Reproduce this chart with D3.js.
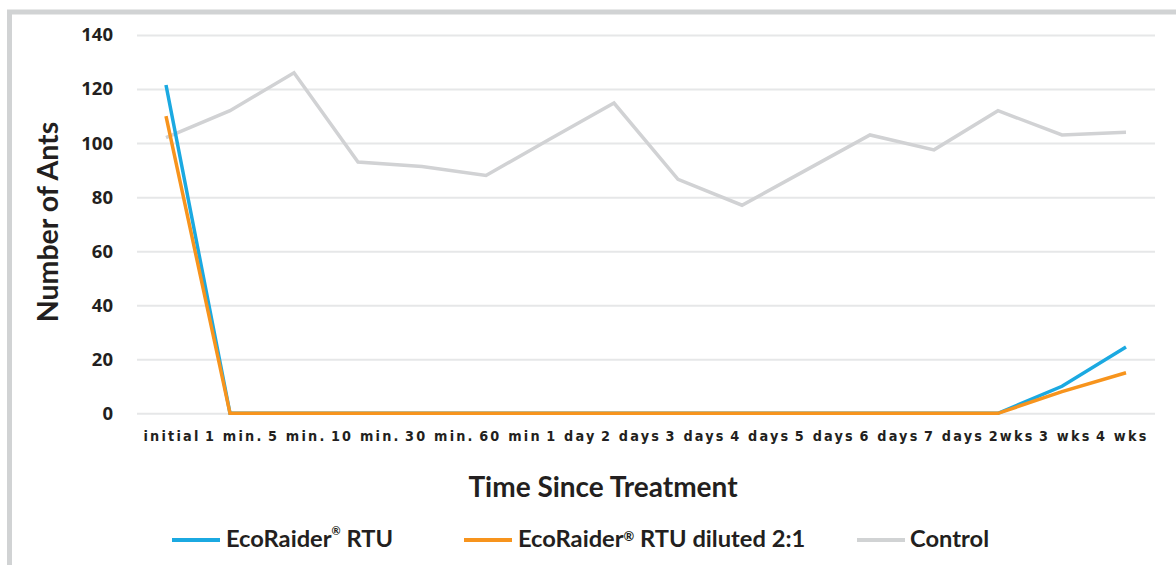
<!DOCTYPE html>
<html>
<head>
<meta charset="utf-8">
<script src="https://cdn.jsdelivr.net/npm/d3@7"></script>
<style>
  html, body { margin: 0; padding: 0; background: #fff; }
  svg { display: block; }
</style>
</head>
<body>
<svg id="chart" width="1176" height="565"></svg>
<script>
const categories = ["initial", "1 min.", "5 min.", "10 min.", "30 min.", "60 min", "1 day", "2 days",
  "3 days", "4 days", "5 days", "6 days", "7 days", "2wks", "3 wks", "4 wks"];
const rtu     = [121.5, 0, 0, 0, 0, 0, 0, 0, 0, 0, 0, 0, 0, 0, 10, 24.5];
const diluted = [110, 0, 0, 0, 0, 0, 0, 0, 0, 0, 0, 0, 0, 0, 8, 15];
const control = [102, 112, 126, 93, 91.3, 88, 101.5, 114.8, 86.6, 77, 90, 103, 97.5, 112, 103, 104];
const yTicks  = [0, 20, 40, 60, 80, 100, 120, 140];
const seriesNames = ["EcoRaider", "EcoRaider", "Control"];

const svg = d3.select("#chart");
const textColor = "#231f20";
const titleFont = "Lato, 'Open Sans', sans-serif";

// frame
svg.append("path")
  .attr("d", "M9.5,565 L9.5,12 L1176,12")
  .attr("fill", "none").attr("stroke", "#d1d3d4").attr("stroke-width", 5);

const plotLeft = 137, plotRight = 1155;
const x = d3.scalePoint().domain(categories).range([166, 1126]);
const y = d3.scaleLinear().domain([0, 140]).range([413.3, 35]);

// y axis with gridlines
const yAxis = d3.axisLeft(y).tickValues(yTicks).tickSize(plotRight - plotLeft).tickPadding(24);
const gy = svg.append("g").attr("transform", `translate(${plotRight},0)`).call(yAxis);
gy.select(".domain").remove();
gy.selectAll(".tick line").attr("stroke", "#e6e7e8").attr("stroke-width", 2);
gy.selectAll(".tick text")
  .attr("fill", textColor)
  .style("font-family", "'Open Sans', sans-serif")
  .style("font-weight", "700")
  .style("font-size", "18.5px");

// x axis: labels flow as one run of text under the points, like the original
const xAxis = d3.axisBottom(x).tickSize(0).tickPadding(18);
const gx = svg.append("g").attr("transform", `translate(0,${y(0)})`).call(xAxis);
gx.select(".domain").remove();
const xt = gx.selectAll(".tick text")
  .attr("fill", textColor)
  .style("font-family", "'DejaVu Sans Condensed', 'DejaVu Sans', sans-serif")
  .style("font-stretch", "condensed")
  .style("font-weight", "700")
  .style("letter-spacing", "2.2px")
  .style("font-size", "14.3px");
{
  const runStart = 143, runEnd = 1148;
  const nodes = xt.nodes();
  const widths = nodes.map(n => n.getComputedTextLength());
  const total = d3.sum(widths);
  const gap = (runEnd - runStart - total) / (nodes.length - 1);
  let cur = runStart;
  nodes.forEach((n, i) => {
    const tx = x(categories[i]);
    d3.select(n).attr("text-anchor", "start").attr("x", cur - tx);
    cur += widths[i] + gap;
  });
}

// lines
const line = d3.line().x((d, i) => x(categories[i])).y(d => y(d));
svg.append("path").datum(control).attr("d", line).attr("fill", "none")
  .attr("stroke", "#d1d2d4").attr("stroke-width", 3.5);
svg.append("path").datum(rtu).attr("d", line).attr("fill", "none")
  .attr("stroke", "#1ba9e1").attr("stroke-width", 3.5);
svg.append("path").datum(diluted).attr("d", line).attr("fill", "none")
  .attr("stroke", "#f7941d").attr("stroke-width", 3.5);

// axis titles
svg.append("text")
  .attr("transform", "translate(58,222) rotate(-90)")
  .attr("text-anchor", "middle")
  .attr("fill", textColor)
  .style("font-family", titleFont).style("font-weight", "700").style("font-size", "28.5px")
  .text("Number of Ants");

svg.append("text")
  .attr("x", 603).attr("y", 497)
  .attr("text-anchor", "middle")
  .attr("fill", textColor)
  .style("font-family", titleFont).style("font-weight", "700").style("font-size", "28px")
  .text("Time Since Treatment");

// legend
const legend = svg.append("g")
  .style("font-family", titleFont).style("font-weight", "700").style("font-size", "23.7px")
  .attr("fill", textColor);

const legendItems = [
  { x: 172, color: "#1ba9e1" },
  { x: 464, color: "#f7941d" },
  { x: 857, color: "#d1d3d4" }
];
legendItems.forEach(it => {
  legend.append("line").attr("x1", it.x).attr("x2", it.x + 48).attr("y1", 540).attr("y2", 540)
    .attr("stroke", it.color).attr("stroke-width", 4);
});
const t1 = legend.append("text").attr("x", 226).attr("y", 547);
t1.append("tspan").text(seriesNames[0]);
t1.append("tspan").attr("dy", -12).style("font-size", "11px").text("®");
t1.append("tspan").attr("dy", 12).text(" RTU");

const t2 = legend.append("text").attr("x", 518).attr("y", 547);
t2.append("tspan").text(seriesNames[1]);
t2.append("tspan").attr("dy", -6).style("font-size", "13px").text("®");
t2.append("tspan").attr("dy", 6).text(" RTU diluted 2:1");

legend.append("text").attr("x", 910).attr("y", 547).text(seriesNames[2]);
</script>
</body>
</html>
